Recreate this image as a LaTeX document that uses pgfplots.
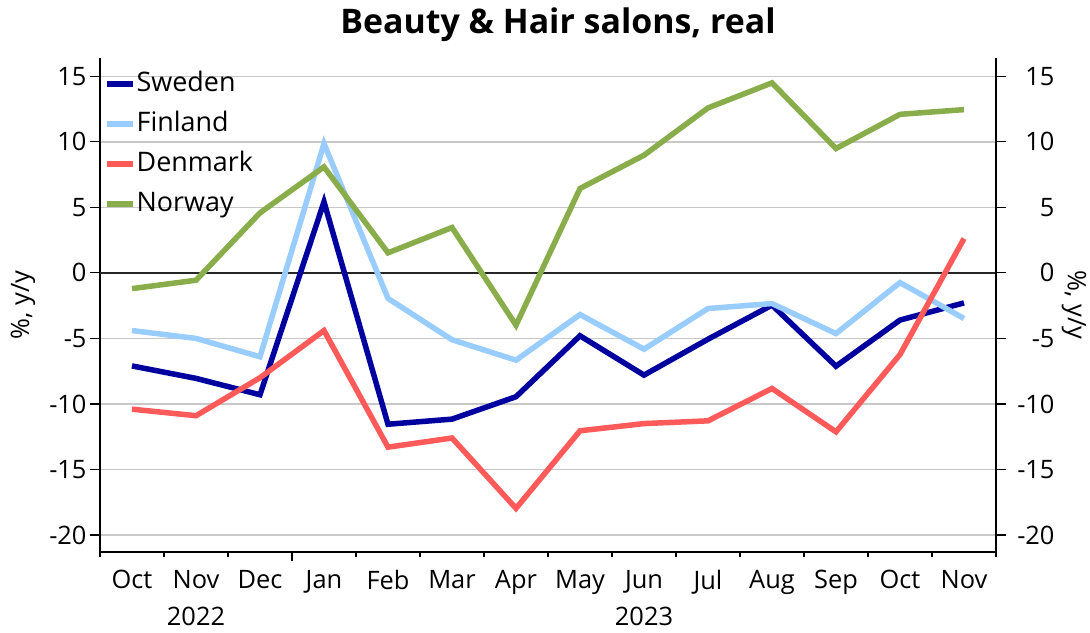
\documentclass[border=0pt]{standalone}
\usepackage{pgfplots}
\pgfplotsset{compat=1.18}
\usepackage{fontspec}
\setmainfont{Open Sans}
\definecolor{swe}{RGB}{0,0,158}
\definecolor{fin}{RGB}{153,204,255}
\definecolor{den}{RGB}{255,90,90}
\definecolor{nor}{RGB}{136,173,74}
\definecolor{gridc}{RGB}{200,200,200}
\newcommand\tickf{\fontsize{25.5}{37}\selectfont}
\newcommand\legf{\fontsize{27}{32}\selectfont}
\begin{document}
\begin{tikzpicture}
\useasboundingbox (-100bp,-81bp) rectangle (990bp,552bp);
\pgfplotsset{
  base/.style={
    scale only axis, width=896bp, height=494bp,
    xmin=-0.5, xmax=13.5, ymin=-21.3, ymax=16.4,
    ytick={-20,-15,...,15},
    tick align=outside,
    axis line style={-, line width=1.3bp, black},
    major tick style={line width=1.2bp, black},
    minor tick style={line width=1.2bp, black},
    ticklabel style={font=\tickf},
    /pgf/number format/assume math mode=true,
  }
}
\begin{axis}[base,
  axis x line*=bottom, axis y line*=left,
  xtick={0,...,13},
  xticklabels={Oct,Nov\\2022,Dec,Jan,Feb,Mar,Apr,May,Jun\\2023,Jul,Aug,Sep,Oct,Nov},
  xticklabel style={align=center, font=\tickf, yshift=-5bp},
  major x tick style={draw=none},
  minor xtick={-0.5,0.5,1.5,3.5,4.5,5.5,6.5,7.5,8.5,9.5,10.5,11.5,12.5,13.5},
  extra x ticks={2.5}, extra x tick labels={},
  extra x tick style={major tick length=9bp, major x tick style={draw=black, line width=1.2bp}},
  minor tick length=5bp,
  major tick length=10bp,
  ymajorgrids, grid style={gridc, line width=1.3bp},
  legend style={at={(0,1)}, anchor=north west, draw=none, fill=none,
    font=\legf, row sep=12bp, xshift=1bp, yshift=-10bp,
    nodes={inner sep=1bp, text height=20bp, text depth=6bp}},
  legend cell align=left,
  legend image code/.code={\draw[#1, line width=5.5bp] (0bp,0bp)--(26bp,0bp);},
]
\addplot[forget plot, black!85, line width=1.8bp] coordinates {(-0.5,0) (13.5,0)};
\addplot[swe, line width=5.5bp] coordinates {
(0,-7.1) (1,-8.05) (2,-9.3) (3,5.42) (4,-11.55) (5,-11.16) (6,-9.45)
(7,-4.8) (8,-7.8) (9,-5.06) (10,-2.46) (11,-7.12) (12,-3.6) (13,-2.29)};
\addlegendentry{Sweden}
\addplot[fin, line width=5.5bp] coordinates {
(0,-4.4) (1,-5.0) (2,-6.4) (3,9.87) (4,-1.95) (5,-5.1) (6,-6.66)
(7,-3.18) (8,-5.82) (9,-2.72) (10,-2.34) (11,-4.63) (12,-0.74) (13,-3.48)};
\addlegendentry{Finland}
\addplot[den, line width=5.5bp] coordinates {
(0,-10.4) (1,-10.9) (2,-8.0) (3,-4.4) (4,-13.3) (5,-12.6) (6,-17.97)
(7,-12.05) (8,-11.5) (9,-11.29) (10,-8.82) (11,-12.13) (12,-6.23) (13,2.62)};
\addlegendentry{Denmark}
\addplot[nor, line width=5.5bp] coordinates {
(0,-1.2) (1,-0.56) (2,4.58) (3,8.09) (4,1.53) (5,3.46) (6,-3.99)
(7,6.44) (8,8.98) (9,12.59) (10,14.5) (11,9.49) (12,12.1) (13,12.46)};
\addlegendentry{Norway}
\end{axis}
\begin{axis}[base,
  axis x line=none, axis y line*=right,
  major tick length=10bp,
  yticklabel style={anchor=east, xshift=52bp},
]
\end{axis}
\node[anchor=base, font=\fontsize{34}{40}\selectfont\bfseries] at (458bp,518bp) {Beauty \& Hair salons, real};
\node[rotate=90, font=\fontsize{25.5}{30}\selectfont] at (-77bp,247bp) {\%, y/y};
\node[rotate=-90, font=\fontsize{25.5}{30}\selectfont] at (974bp,247bp) {\%, y/y};
\end{tikzpicture}
\end{document}
